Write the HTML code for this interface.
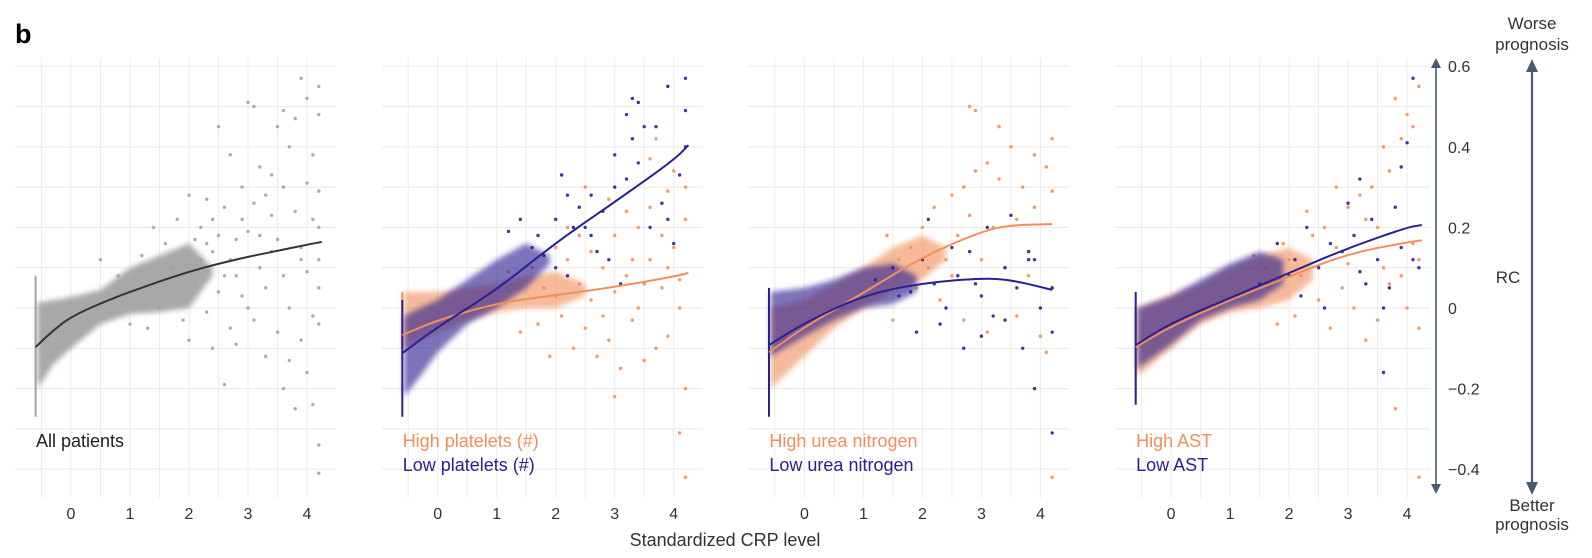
<!DOCTYPE html>
<html><head><meta charset="utf-8"><style>
html,body{margin:0;padding:0;background:#fff;}
svg{display:block;font-family:"Liberation Sans",sans-serif;}
</style></head><body>
<svg id="chart" width="1592" height="558" viewBox="0 0 1592 558" xmlns="http://www.w3.org/2000/svg">
<defs><filter id="soft" x="-10%" y="-20%" width="120%" height="140%"><feGaussianBlur stdDeviation="2.6"/></filter></defs>
<text x="15" y="43" font-size="27" font-weight="bold" fill="#000">b</text>
<g id="panels"></g>
<text x="725" y="546" font-size="18" fill="#333" text-anchor="middle">Standardized CRP level</text>
<g>
<line x1="1436" y1="66" x2="1436" y2="486" stroke="#4a5a70" stroke-width="1.6"/>
<path d="M1431,68 L1436,58 L1441,68 Z M1431,484 L1436,494 L1441,484 Z" fill="#4a5a70"/>
</g>
<g id="yticks"></g>
<text x="1508" y="283" font-size="17" fill="#333" text-anchor="middle">RC</text>
<g>
<line x1="1532" y1="68" x2="1532" y2="486" stroke="#4a5a70" stroke-width="2.2"/>
<path d="M1526,72 L1532,59 L1538,72 Z M1526,482 L1532,495 L1538,482 Z" fill="#4a5a70"/>
</g>
<text x="1532" y="29" font-size="17" fill="#333" text-anchor="middle">Worse</text>
<text x="1532" y="50" font-size="17" fill="#333" text-anchor="middle">prognosis</text>
<text x="1532" y="511" font-size="17" fill="#333" text-anchor="middle">Better</text>
<text x="1532" y="530" font-size="17" fill="#333" text-anchor="middle">prognosis</text>
</svg>
<script>
const yTicks=[0.6,0.4,0.2,0,-0.2,-0.4];
const xTicks=[0,1,2,3,4];
const fitX=[-0.6,-0.3,0,0.5,1,1.5,2,2.5,3,3.5,4,4.25];
const fitAll=[-0.097,-0.055,-0.022,0.012,0.04,0.066,0.09,0.11,0.127,0.142,0.157,0.164];
const fit2X=[-0.6,0,1,2,3,4,4.25];
const fitPlatLow=[-0.112,-0.047,0.045,0.162,0.263,0.367,0.404];
const fitPlatHigh=[-0.067,-0.03,0.012,0.032,0.052,0.078,0.087];
const fit3X=[-0.6,0,1,2,3,3.5,4.2];
const fitUreaHigh=[-0.11,-0.047,0.037,0.127,0.19,0.206,0.208];
const fitUreaLow=[-0.092,-0.037,0.032,0.062,0.074,0.07,0.045];
const fit4X=[-0.6,0,1,2,3,4,4.25];
const fitAstLow=[-0.092,-0.037,0.025,0.087,0.149,0.2,0.206];
const fitAstHigh=[-0.097,-0.045,0.02,0.078,0.135,0.163,0.168];
// dense-cloud envelopes
const bandAllX=[-0.57,-0.3,0,0.5,1,1.5,2,2.4];
const bandAllLo=[-0.2,-0.14,-0.1,-0.04,-0.015,-0.01,0.0,0.08];
const bandAllHi=[0.013,0.02,0.027,0.045,0.1,0.13,0.16,0.1];
const bandPlatLowX=[-0.57,-0.3,0,0.5,1,1.5,1.9];
const bandPlatLowLo=[-0.22,-0.17,-0.11,-0.04,0.0,0.05,0.11];
const bandPlatLowHi=[-0.02,0.0,0.02,0.07,0.12,0.16,0.13];
const bandPlatHighX=[-0.57,0,0.5,1,1.5,2,2.5];
const bandPlatHighLo=[-0.1,-0.06,-0.03,-0.01,0.0,0.0,0.03];
const bandPlatHighHi=[0.04,0.04,0.05,0.06,0.08,0.09,0.06];
const bandUreaHighX=[-0.57,0,0.5,1,1.5,2,2.4];
const bandUreaHighLo=[-0.2,-0.12,-0.05,0.0,0.04,0.07,0.12];
const bandUreaHighHi=[0.0,0.02,0.06,0.1,0.15,0.18,0.15];
const bandUreaLowX=[-0.57,0,0.5,1,1.5,1.9];
const bandUreaLowLo=[-0.12,-0.07,-0.03,0.0,0.01,0.04];
const bandUreaLowHi=[0.04,0.05,0.07,0.1,0.11,0.08];
const bandAstHighX=[-0.57,0,0.5,1,1.5,2,2.4];
const bandAstHighLo=[-0.17,-0.1,-0.04,-0.01,0.0,0.02,0.07];
const bandAstHighHi=[0.0,0.03,0.06,0.1,0.13,0.15,0.12];
const bandAstLowX=[-0.57,0,0.5,1,1.5,1.9];
const bandAstLowLo=[-0.15,-0.09,-0.03,0.0,0.02,0.06];
const bandAstLowHi=[0.0,0.03,0.07,0.11,0.14,0.12];
// sparse points [x,y]
const ptsAll=[[2.5,0.45],[3.0,0.51],[3.1,0.5],[3.6,0.49],[4.0,0.52],[4.2,0.55],[3.9,0.57],[3.5,0.45],[3.8,0.47],[4.2,0.48],[2.7,0.38],[3.2,0.35],[3.4,0.33],[3.7,0.4],[4.1,0.38],[2.9,0.3],[3.3,0.28],[3.6,0.3],[4.0,0.31],[4.2,0.29],[2.3,0.27],[2.6,0.25],[2.9,0.22],[3.1,0.26],[3.4,0.23],[3.8,0.24],[4.1,0.22],[4.2,0.2],[2.0,0.28],[1.8,0.22],[2.2,0.2],[2.5,0.18],[2.8,0.17],[3.0,0.19],[3.5,0.17],[3.9,0.15],[4.2,0.12],[1.6,0.16],[2.4,0.14],[2.7,0.12],[3.2,0.1],[3.6,0.08],[4.0,0.09],[4.2,0.05],[2.1,0.06],[2.5,0.04],[2.9,0.03],[3.3,0.05],[3.7,0.0],[4.1,-0.02],[1.5,0.0],[1.9,-0.03],[2.3,-0.01],[2.7,-0.05],[3.1,-0.03],[3.5,-0.06],[3.9,-0.08],[4.2,-0.04],[1.3,-0.05],[2.0,-0.08],[2.4,-0.1],[2.8,-0.09],[3.3,-0.12],[3.7,-0.13],[4.0,-0.16],[3.6,-0.2],[3.8,-0.25],[4.1,-0.24],[2.6,-0.19],[4.2,-0.34],[4.2,-0.41],[1.0,-0.04],[0.5,0.12],[1.2,0.13],[1.7,0.1],[1.4,0.2],[3.0,0.0],[2.2,0.12],[3.4,0.14],[1.1,0.07],[0.8,0.08],[1.6,0.06],[2.8,0.08],[3.9,0.12],[2.3,0.16],[2.6,0.08],[3.2,0.18],[2.1,0.17],[2.4,0.22],[1.9,0.12]];
const ptsPlatLow=[[1.7,0.18],[2.0,0.22],[2.3,0.2],[2.5,0.2],[2.0,0.1],[1.8,0.13],[1.6,0.15],[2.6,0.28],[2.8,0.24],[3.0,0.3],[3.2,0.32],[3.4,0.36],[3.3,0.42],[3.5,0.45],[3.9,0.55],[4.2,0.57],[4.2,0.49],[3.2,0.48],[3.3,0.52],[3.4,0.51],[3.7,0.45],[4.1,0.33],[3.8,0.26],[3.9,0.22],[4.0,0.16],[3.6,0.2],[2.7,0.14],[2.9,0.12],[3.1,0.06],[2.2,0.08],[2.6,0.18],[3.0,0.38],[2.1,0.33],[2.2,0.28],[1.4,0.22],[1.2,0.19],[2.4,0.25],[4.2,0.4]];
const ptsPlatHigh=[[1.6,0.1],[1.8,0.05],[2.0,0.15],[2.2,0.12],[2.4,0.06],[2.6,0.02],[2.8,0.1],[3.0,0.18],[3.2,0.08],[3.4,0.2],[3.6,0.12],[3.8,0.05],[4.0,0.15],[4.2,0.22],[2.1,-0.02],[2.5,-0.05],[2.9,-0.08],[3.3,-0.03],[3.7,-0.1],[4.1,0.0],[1.7,-0.04],[2.3,-0.1],[2.7,-0.12],[3.1,-0.15],[3.5,-0.13],[3.9,-0.07],[2.0,0.03],[2.6,0.14],[3.0,0.04],[3.4,0.0],[3.8,0.18],[4.2,0.3],[3.6,0.25],[3.9,0.29],[3.2,0.24],[2.9,0.27],[4.0,0.34],[3.7,0.42],[3.6,0.37],[2.5,0.3],[2.2,0.2],[4.2,-0.2],[4.1,-0.31],[3.0,-0.22],[1.9,-0.12],[4.2,-0.42],[1.4,-0.06],[1.2,0.09],[2.4,0.18],[3.3,0.12],[3.9,0.1],[2.8,-0.02],[3.5,0.06],[4.1,0.07]];
const ptsUreaHigh=[[2.0,0.2],[2.2,0.25],[2.5,0.28],[2.7,0.3],[2.9,0.34],[3.1,0.36],[3.3,0.32],[3.5,0.4],[2.8,0.5],[2.9,0.49],[3.3,0.45],[4.2,0.42],[4.1,0.35],[3.9,0.25],[3.6,0.22],[3.2,0.2],[2.6,0.18],[2.4,0.12],[2.1,0.1],[1.8,0.15],[1.6,0.12],[1.4,0.18],[3.0,0.12],[3.4,0.1],[3.8,0.08],[4.2,0.05],[2.3,0.02],[2.7,-0.03],[3.1,-0.06],[3.6,-0.02],[4.0,-0.07],[4.1,-0.11],[1.5,-0.03],[4.2,-0.42],[3.7,0.3],[2.5,0.08],[3.9,0.38],[4.2,0.29],[1.9,0.05],[2.8,0.23]];
const ptsUreaLow=[[1.5,0.1],[1.8,0.04],[2.0,0.12],[2.2,0.06],[2.4,0.0],[2.6,0.08],[2.8,0.14],[3.0,0.03],[3.2,-0.02],[3.4,0.1],[3.6,0.05],[3.8,0.12],[4.0,0.0],[4.2,0.05],[2.1,0.22],[2.5,0.15],[3.1,0.2],[3.5,0.23],[3.9,0.12],[3.0,-0.07],[3.4,-0.03],[3.7,-0.1],[2.3,-0.04],[1.9,-0.06],[3.9,-0.2],[4.2,-0.31],[4.2,-0.06],[2.7,-0.1],[1.2,0.07],[3.8,0.14],[2.9,0.06],[1.6,0.03]];
const ptsAstHigh=[[2.0,0.12],[2.2,0.08],[2.4,0.18],[2.6,0.2],[2.8,0.15],[3.0,0.25],[3.2,0.28],[3.4,0.3],[3.5,0.2],[3.7,0.34],[3.9,0.42],[4.0,0.48],[3.8,0.52],[4.2,0.55],[4.1,0.45],[3.6,0.4],[3.3,0.22],[2.9,0.05],[2.5,0.02],[2.1,-0.02],[3.1,0.0],[3.5,-0.03],[3.9,0.08],[4.2,0.12],[4.0,0.0],[4.2,-0.05],[2.7,-0.05],[3.3,-0.08],[1.8,-0.04],[3.8,-0.25],[4.2,-0.42],[1.6,0.1],[1.4,0.13],[3.0,0.11],[3.6,0.1],[4.1,0.16],[2.3,0.24],[2.8,0.3],[3.7,0.06],[1.9,0.16]];
const ptsAstLow=[[1.8,0.16],[2.1,0.12],[2.3,0.2],[2.5,0.1],[2.7,0.16],[2.9,0.14],[3.1,0.18],[3.3,0.06],[3.5,0.12],[3.7,0.05],[3.9,0.15],[4.1,0.12],[4.2,0.1],[3.0,0.26],[3.2,0.32],[3.4,0.22],[3.8,0.25],[3.9,0.35],[4.0,0.41],[4.1,0.57],[2.6,0.0],[2.2,0.03],[3.6,0.0],[3.6,-0.16],[1.5,0.06],[2.0,0.08],[3.2,0.09]];
// vertical strip at minimum CRP [lo,hi]
const stripAll=[-0.27,0.08];
const stripPlatLow=[-0.27,0.02];
const stripPlatHigh=[-0.1,0.04];
const stripUreaHigh=[-0.24,0.04];
const stripUreaLow=[-0.27,0.05];
const stripAstHigh=[-0.22,0.0];
const stripAstLow=[-0.24,0.04];

const ORANGE='#F08F5C', BLUE='#2B2090', GRAY='#a3a3a3';
const NS='http://www.w3.org/2000/svg';
function yPx(v){return 308-403*v;}
function mk(tag,attrs,parent){const e=document.createElementNS(NS,tag);for(const k in attrs)e.setAttribute(k,attrs[k]);parent.appendChild(e);return e;}
const panels=[
 {legend:[['All patients','#222']],series:[{c:GRAY,band:[bandAllX,bandAllLo,bandAllHi],pts:ptsAll,strip:stripAll,fx:fitX,fy:fitAll,lc:'#333',name:'all-patients'}]},
 {legend:[['High platelets (#)',ORANGE],['Low platelets (#)',BLUE]],series:[
   {c:ORANGE,band:[bandPlatHighX,bandPlatHighLo,bandPlatHighHi],pts:ptsPlatHigh,strip:stripPlatHigh,fx:fit2X,fy:fitPlatHigh,lc:ORANGE,name:'high-platelets'},
   {c:BLUE,band:[bandPlatLowX,bandPlatLowLo,bandPlatLowHi],pts:ptsPlatLow,strip:stripPlatLow,fx:fit2X,fy:fitPlatLow,lc:BLUE,name:'low-platelets'}]},
 {legend:[['High urea nitrogen',ORANGE],['Low urea nitrogen',BLUE]],series:[
   {c:ORANGE,band:[bandUreaHighX,bandUreaHighLo,bandUreaHighHi],pts:ptsUreaHigh,strip:stripUreaHigh,fx:fit3X,fy:fitUreaHigh,lc:ORANGE,name:'high-urea'},
   {c:BLUE,band:[bandUreaLowX,bandUreaLowLo,bandUreaLowHi],pts:ptsUreaLow,strip:stripUreaLow,fx:fit3X,fy:fitUreaLow,lc:BLUE,name:'low-urea'}]},
 {legend:[['High AST',ORANGE],['Low AST',BLUE]],series:[
   {c:ORANGE,band:[bandAstHighX,bandAstHighLo,bandAstHighHi],pts:ptsAstHigh,strip:stripAstHigh,fx:fit4X,fy:fitAstHigh,lc:ORANGE,name:'high-ast'},
   {c:BLUE,band:[bandAstLowX,bandAstLowLo,bandAstLowHi],pts:ptsAstLow,strip:stripAstLow,fx:fit4X,fy:fitAstLow,lc:BLUE,name:'low-ast'}]}
];
const root=document.getElementById('panels');
panels.forEach((p,i)=>{
 const x0=71+366.7*i;
 const xPx=v=>x0+59*v;
 const g=mk('g',{},root);
 
 
 const left=x0-56, right=Math.min(x0+265,1430);
 for(let v=-0.5;v<=4.01;v+=0.5){const l=mk('line',{x1:xPx(v),x2:xPx(v),y1:58,y2:498,stroke:'#ececec','stroke-width':1},g);
  
  }
 for(let k=6;k>=-4;k--){const l=mk('line',{x1:left,x2:right,y1:yPx(k/10),y2:yPx(k/10),stroke:'#ececec','stroke-width':1.2},g);
  
  }
 xTicks.forEach(t=>{const tx=mk('text',{x:xPx(t),y:519,'font-size':16,fill:'#333','text-anchor':'middle'},g);tx.textContent=t;
  
  });
 p.series.forEach(s=>{
  const [bx,lo,hi]=s.band;
  let d='M'+bx.map((x,j)=>xPx(x)+','+yPx(hi[j])).join(' L');
  for(let j=bx.length-1;j>=0;j--)d+=' L'+xPx(bx[j])+','+yPx(lo[j]);
  const b=mk('path',{d:d+'Z',fill:s.c,'fill-opacity':s.c===GRAY?0.95:0.62,filter:'url(#soft)'},g);
  
  
  const st=mk('line',{x1:xPx(-0.6),x2:xPx(-0.6),y1:yPx(s.strip[1]),y2:yPx(s.strip[0]),stroke:s.c,'stroke-width':2},g);
  
  
  s.pts.forEach(q=>{const c=mk('circle',{cx:xPx(q[0]),cy:yPx(q[1]),r:1.7,fill:s.c,'fill-opacity':0.9},g);
   
   });
 });
 p.series.forEach(s=>{
  let d='';
  for(let j=0;j<s.fx.length;j++){const X=xPx(s.fx[j]),Y=yPx(s.fy[j]);
   if(j===0)d='M'+X+','+Y;else{const pX=xPx(s.fx[j-1]),pY=yPx(s.fy[j-1]);const mx=(pX+X)/2;d+=' Q'+pX+','+pY+' '+mx+','+(pY+Y)/2;}}
  d+=' L'+xPx(s.fx[s.fx.length-1])+','+yPx(s.fy[s.fy.length-1]);
  const l=mk('path',{d:d,fill:'none',stroke:s.lc,'stroke-width':2},g);
  
  
 });
 p.legend.forEach((L,j)=>{const t=mk('text',{x:x0-35,y:447+24*j,'font-size':18,fill:L[1]},g);t.textContent=L[0];
  
  });
});
const yt=document.getElementById('yticks');
yTicks.forEach(v=>{const t=mk('text',{x:1448,y:yPx(v)+6,'font-size':16,fill:'#333'},yt);t.textContent=v<0?'\u2212'+Math.abs(v):String(v);
 
 });
</script>
</body></html>
